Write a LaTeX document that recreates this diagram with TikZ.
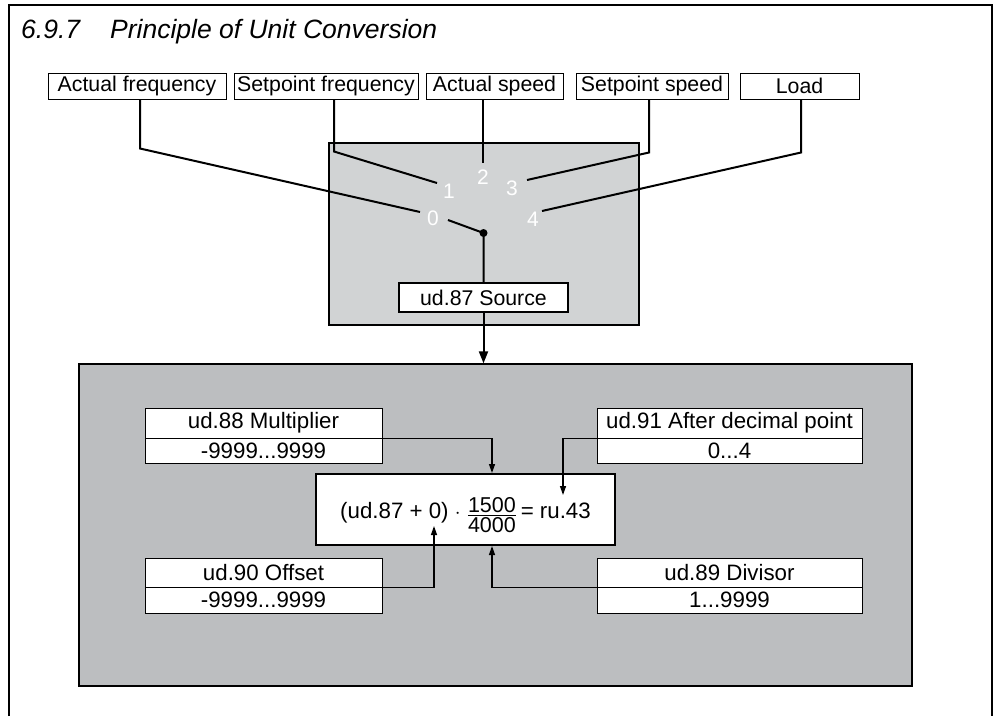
\documentclass[tikz,border=0pt]{standalone}
\usepackage{fontspec}
\setmainfont{Liberation Sans}
\usetikzlibrary{arrows.meta,calc}
\definecolor{swgray}{HTML}{D1D3D4}
\definecolor{biggray}{HTML}{BCBEC0}
\tikzset{
  txt/.style={font=\fontsize{21.3}{24}\selectfont},
  ltxt/.style={font=\fontsize{22.3}{25}\selectfont},
  topbox/.style={txt,draw,line width=1pt,fill=white,inner sep=0pt,minimum height=26pt},
  parbox/.style={ltxt,draw,line width=1pt,fill=white,inner sep=0pt},
  wire/.style={line width=2pt},
  thinarr/.style={line width=1.3pt,-{Triangle[length=9pt,width=6pt]}},
  num/.style={font=\fontsize{21}{24}\selectfont,text=white,inner sep=0pt},
}
\begin{document}
\begin{tikzpicture}[x=1pt,y=-1pt]
\useasboundingbox (0,0) rectangle (999,716);
% outer frame
\draw[line width=2.5pt] (9,716) -- (9,5) -- (992,5) -- (992,716);
% title
\node[anchor=base west,inner sep=0pt,font=\fontsize{26.5}{30}\selectfont\itshape] (tnum) at (21,38) {6.9.7};
\node[anchor=base west,inner sep=0pt,font=\fontsize{26.5}{30}\selectfont\itshape] (ttxt) at (110,38) {Principle of Unit Conversion};
% top boxes
\node[topbox,minimum width=178pt] (af) at (137,86) {Actual frequency};
\node[topbox,minimum width=184pt] (sf) at (326,86) {Setpoint frequency};
\node[topbox,minimum width=137pt] (as) at (494.5,86) {Actual speed};
\node[topbox,minimum width=152pt] (ss) at (652,86) {Setpoint speed};
\node[topbox,minimum width=119pt] (ld) at (799.5,86) {Load};
% switch box
\node[draw,line width=2pt,fill=swgray,minimum width=310pt,minimum height=182pt,inner sep=0pt] (sw) at (484,234) {};
% contact numbers
\node[num] (n0) at (433,218) {0};
\node[num] (n1) at (449,191) {1};
\node[num] (n2) at (483,177) {2};
\node[num] (n3) at (512,188) {3};
\node[num] (n4) at (533,219) {4};
\coordinate (c0) at (420,212);
\coordinate (c1) at (437,183);
\coordinate (c2) at (483,163);
\coordinate (c3) at (527,180);
\coordinate (c4) at (542,211);
\draw[wire] ([xshift=3pt]af.south) -- ++(0,49) -- (c0);
\draw[wire] ([xshift=8pt]sf.south) -- ++(0,52) -- (c1);
\draw[wire] ([xshift=-11.5pt]as.south) -- (c2);
\draw[wire] ([xshift=-3pt]ss.south) -- ++(0,53) -- (c3);
\draw[wire] ([xshift=1.5pt]ld.south) -- ++(0,53) -- (c4);
% lever
\coordinate (lev) at (448,220);
\coordinate (pivot) at (483.5,233);
\node[draw,line width=2pt,fill=white,minimum width=169pt,minimum height=29pt,inner sep=0pt,txt] (src) at (483.5,297.5) {ud.87 Source};
\draw[wire] (lev) -- (pivot) -- (pivot |- src.north);
\fill (pivot) circle (4pt);
% big box
\node[draw,line width=1.3pt,fill=biggray,minimum width=833pt,minimum height=322pt,inner sep=0pt] (big) at (495.5,525) {};
\draw[wire,-{Triangle[length=12pt,width=9pt]}] (src.south) -- (src.south |- big.north);
% parameter boxes
\node[parbox,minimum width=237pt,minimum height=30pt] (m1) at (263.5,423) {ud.88 Multiplier};
\node[parbox,minimum width=237pt,minimum height=25pt] (m2) at (263.5,450.5) {-9999...9999};
\node[parbox,minimum width=265pt,minimum height=30pt] (a1) at (729.5,423) {ud.91 After decimal point};
\node[parbox,minimum width=265pt,minimum height=25pt] (a2) at (729.5,450.5) {0...4};
\node[parbox,minimum width=237pt,minimum height=29pt] (o1) at (263.5,572.5) {ud.90 Offset};
\node[parbox,minimum width=237pt,minimum height=26pt] (o2) at (263.5,600) {-9999...9999};
\node[parbox,minimum width=265pt,minimum height=29pt] (d1) at (729.5,572.5) {ud.89 Divisor};
\node[parbox,minimum width=265pt,minimum height=26pt] (d2) at (729.5,600) {1...9999};
% formula
\node[draw,line width=2pt,fill=white,minimum width=299pt,minimum height=71pt,inner sep=0pt,ltxt] (f) at (465.5,509.5) {};
\node[ltxt,inner sep=0pt,anchor=base] (ftxt) at (465.5,518)
  {(ud.87 + 0) $\cdot$ \raisebox{-0.1em}{$\frac{\mbox{\fontsize{21.5}{24}\selectfont 1500}}{\mbox{\fontsize{21.5}{24}\selectfont\rule{0pt}{17pt}4000}}$}\,= ru.43};
\coordinate (fa) at (563,495);
\coordinate (fo) at (434,526);
\draw[thinarr] (m1.south east) -| ([xshift=26.5pt]f.north);
\draw[thinarr] (a1.south west) -| (fa);
\draw[thinarr] (o1.south east) -| (fo);
\draw[thinarr] (d1.south west) -| ([xshift=26.5pt]f.south);
\end{tikzpicture}
\end{document}
